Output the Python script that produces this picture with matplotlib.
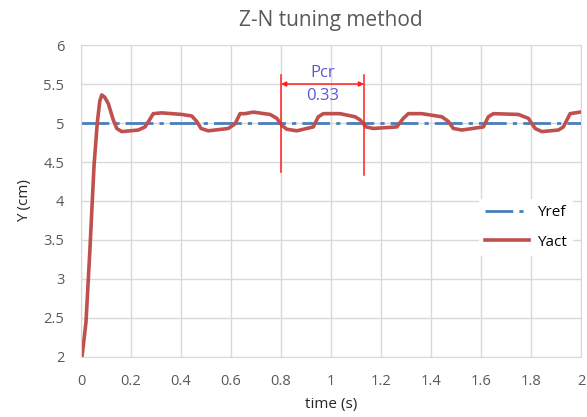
import matplotlib
matplotlib.use("Agg")
import matplotlib.pyplot as plt
from matplotlib.ticker import MultipleLocator, FuncFormatter

y_ref = 5.0
time_s = [0.0, 0.004, 0.02, 0.036, 0.052, 0.065, 0.075, 0.083, 0.095, 0.109,
          0.129, 0.143, 0.163, 0.229, 0.256, 0.272, 0.289, 0.323, 0.403, 0.443,
          0.463, 0.48, 0.509, 0.589, 0.616, 0.636, 0.656, 0.689, 0.756, 0.783,
          0.803, 0.823, 0.863, 0.929, 0.949, 0.969, 1.036, 1.096, 1.116, 1.14,
          1.169, 1.263, 1.289, 1.309, 1.363, 1.443, 1.469, 1.489, 1.523, 1.609,
          1.629, 1.649, 1.749, 1.789, 1.816, 1.843, 1.909, 1.929, 1.956, 1.996]
y_act = [2.0, 2.0, 2.45, 3.4, 4.45, 5.0, 5.28, 5.36, 5.33, 5.25,
         5.04, 4.93, 4.89, 4.91, 4.95, 5.03, 5.12, 5.13, 5.11, 5.09,
         5.02, 4.93, 4.9, 4.93, 4.99, 5.12, 5.12, 5.14, 5.11, 5.06,
         4.97, 4.92, 4.9, 4.95, 5.08, 5.12, 5.12, 5.08, 5.04, 4.95,
         4.93, 4.95, 5.06, 5.12, 5.12, 5.08, 5.02, 4.93, 4.91, 4.95,
         5.08, 5.12, 5.11, 5.06, 4.93, 4.89, 4.91, 4.95, 5.12, 5.14]

# critical period markers
pcr_start = 0.8
pcr_end = 1.132
pcr_label = "0.33"

plt.rcParams['font.family'] = ['Open Sans', 'DejaVu Sans']

fig = plt.figure(figsize=(5.87, 4.17), dpi=100)
ax = fig.add_axes([0.138, 0.144, 0.852, 0.748])

ax.plot([0, 2], [y_ref, y_ref], color='#4a7ebb', lw=2.0,
        linestyle=(0, (10, 2.2, 1.5, 2.2)), label='Yref')
ax.plot(time_s, y_act, color='#c0504d', lw=2.6, label='Yact',
        solid_joinstyle='round')

# Pcr annotation
ax.plot([pcr_start, pcr_start], [4.37, 5.62], color='#ff2020', lw=1.1)
ax.plot([pcr_end, pcr_end], [4.33, 5.62], color='#ff2020', lw=1.1)
ax.annotate('', xy=(pcr_start, 5.5), xytext=(pcr_end, 5.5),
            arrowprops=dict(arrowstyle='<|-|>', color='#ff2020', lw=1.1,
                            mutation_scale=7, shrinkA=0, shrinkB=0))
mid = (pcr_start + pcr_end) / 2
ax.text(mid, 5.64, 'Pcr', color='#5a5ad8', fontsize=12, ha='center', va='center')
ax.text(mid, 5.35, pcr_label, color='#5a5ad8', fontsize=12, ha='center', va='center')

ax.set_xlim(0, 2)
ax.set_ylim(2, 6)
ax.xaxis.set_major_locator(MultipleLocator(0.2))
ax.yaxis.set_major_locator(MultipleLocator(0.5))
fmt = FuncFormatter(lambda v, p: '{:g}'.format(round(v, 2)))
ax.xaxis.set_major_formatter(fmt)
ax.yaxis.set_major_formatter(fmt)
ax.grid(True, color='#d9d9d9', lw=1)
ax.set_axisbelow(True)
ax.tick_params(length=0, pad=12, labelsize=10.5, colors='#595959')
for s in ax.spines.values():
    s.set_color('#d9d9d9')

ax.set_title('Z-N tuning method', fontsize=15, color='#595959', pad=14)
ax.set_xlabel('time (s)', fontsize=11, color='#262626', labelpad=6)
ax.set_ylabel('Y (cm)', fontsize=11, color='#262626', labelpad=8)

leg = ax.legend(loc='center left', bbox_to_anchor=(0.795, 0.415), frameon=True,
                fontsize=11, handlelength=2.9, labelspacing=0.95,
                borderaxespad=0, handletextpad=0.5)
leg.get_frame().set_edgecolor('none')
leg.get_frame().set_facecolor('white')
leg.get_frame().set_alpha(1)

fig.savefig('out.png', dpi=100)
